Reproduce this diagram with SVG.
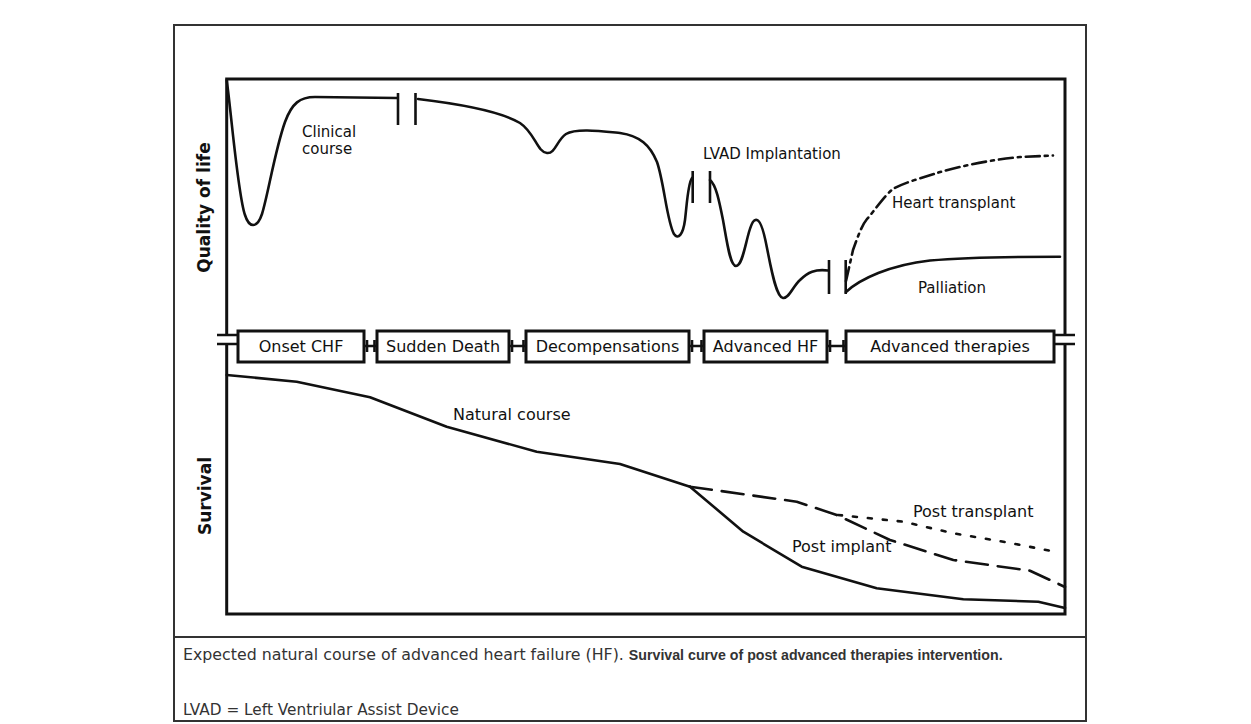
<svg xmlns="http://www.w3.org/2000/svg" width="1251" height="724" viewBox="0 0 1251 724">
  <style>
    .frame { fill: none; stroke: #333; stroke-width: 2; }
    .axis { fill: none; stroke: #111; stroke-width: 3; }
    .curve { fill: none; stroke: #111; stroke-width: 2.6; stroke-linejoin: round; stroke-linecap: round; }
    .brk { fill: none; stroke: #111; stroke-width: 2.6; }
    .box rect { fill: #fff; stroke: #111; stroke-width: 3; }
    .box text { font-family: "DejaVu Sans", Verdana, sans-serif; font-size: 16px; fill: #111; text-anchor: middle; }
    .lbl { font-family: "DejaVu Sans", Verdana, sans-serif; font-size: 15px; fill: #111; }
    .lbl16 { font-family: "DejaVu Sans", Verdana, sans-serif; font-size: 16px; fill: #111; }
    .ax { font-family: "DejaVu Sans", Verdana, sans-serif; font-size: 17px; font-weight: bold; fill: #111; text-anchor: middle; }
    .cap { font-family: "DejaVu Sans", Verdana, sans-serif; fill: #333; }
    .cap2 { font-family: "Liberation Sans", Arial, sans-serif; fill: #333; }
  </style>

  <rect width="1251" height="724" fill="#fff"/>

  <!-- outer figure frame and caption divider -->
  <rect class="frame" x="174" y="25" width="912" height="696"/>
  <line class="frame" x1="174" y1="637" x2="1086" y2="637"/>

  <!-- plot frame with axis breaks at the phase row -->
  <g id="plot-frame">
    <path class="axis" d="M226.7,335 V79 H1065 V335"/>
    <path class="axis" d="M226.7,344 V614 H1065 V344"/>
    <path class="brk" d="M217,335 H237 M217,344 H237"/>
    <path class="brk" d="M1055,335 H1075 M1055,344 H1075"/>
  </g>

  <!-- phase boxes -->
  <g id="phase-onset" class="box">
    <rect x="238" y="331" width="126" height="31"/>
    <text x="301" y="352">Onset CHF</text>
  </g>
  <g id="phase-sudden-death" class="box">
    <rect x="377" y="331" width="132" height="31"/>
    <text x="443" y="352">Sudden Death</text>
  </g>
  <g id="phase-decompensations" class="box">
    <rect x="526" y="331" width="163" height="31"/>
    <text x="607.5" y="352">Decompensations</text>
  </g>
  <g id="phase-advanced-hf" class="box">
    <rect x="704" y="331" width="123" height="31"/>
    <text x="765.5" y="352">Advanced HF</text>
  </g>
  <g id="phase-advanced-therapies" class="box">
    <rect x="846" y="331" width="208" height="31"/>
    <text x="950" y="352">Advanced therapies</text>
  </g>

  <!-- links between phase boxes -->
  <g id="connectors" class="brk">
    <path d="M364,346 H377 M367,340 V352 M374.5,340 V352"/>
    <path d="M509,346 H526 M512,340 V352 M523.5,340 V352"/>
    <path d="M689,346 H704 M692,340 V352 M701.5,340 V352"/>
    <path d="M827,346 H846 M830,340 V352 M843.5,340 V352"/>
  </g>

  <!-- quality of life: clinical course -->
  <g id="quality-curves">
    <path class="curve" d="M226.7,80 C232,120 238,195 245,215 C249,228 257,229 262,214 C268,195 275,150 285,122 C292,103 300,97 315,97 L397,98"/>
    <path class="brk" d="M398,93 V125 M415.5,93 V125"/>
    <path class="curve" d="M418,99 C460,104 500,111 520,123 C535,133 537,152 547,153 C555,154 557,140 566,134 C576,128 600,131 620,133 C640,136 650,145 657,162 C664,182 667,222 674,234 C678,240 683,235 685,220 C687,203 688,183 692,178"/>
    <path class="brk" d="M692.7,171 V203 M710,171 V203"/>
    <path class="curve" d="M710,180 C716,185 719,200 723,220 C727,242 730,266 736,266 C742,266 745,246 749,232 C752,222 754,219 757,220 C761,221 764,232 767,248 C771,268 776,297 783,298 C789,299 793,286 800,280 C808,272 815,269 828,270.5"/>
    <path class="brk" d="M829,260 V294 M845.7,260 V294"/>
    <path class="curve" d="M846,292 C860,279 890,265 930,260.5 C970,257 1020,256.7 1060,256.7"/>
    <path class="curve" stroke-dasharray="14 5 3 5" d="M846,281 L853,250 C858,236 862,225 867,219 C875,210 885,195 893,189 C905,182 925,177 937,173 C960,166 990,160 1020,157 L1053,155.5"/>
  </g>

  <!-- survival curves -->
  <g id="survival-curves">
    <path class="curve" d="M226.7,375 L296.7,381.7 L370,397.3 L446.7,426.7 L536.7,451.7 L620,464 L690,486.7"/>
    <path class="curve" d="M690,486.7 L743.3,531.7 L801.7,566.7 L876.7,588.3 L963.3,599.3 L1038.3,601.7 L1065,608"/>
    <path class="curve" stroke-linecap="butt" stroke-dasharray="22 10" d="M690,486.7 L796.7,501.7 L836.7,515 L890,540 L953.3,560 L1030,570.7 L1065,587"/>
    <path class="curve" stroke-linecap="butt" stroke-dasharray="4 11" d="M838,515 L903.3,521.7 L953.3,533.3 L1003.3,541.7 L1055,551.7"/>
  </g>

  <!-- curve labels -->
  <g id="labels">
    <text class="lbl" x="302" y="137">Clinical</text>
    <text class="lbl" x="302" y="154">course</text>
    <text class="lbl" x="703" y="159">LVAD Implantation</text>
    <text class="lbl" x="892" y="208">Heart transplant</text>
    <text class="lbl" x="918" y="293">Palliation</text>
    <text class="lbl16" x="453" y="420">Natural course</text>
    <text class="lbl16" x="913" y="517">Post transplant</text>
    <text class="lbl16" x="792" y="552">Post implant</text>
    <text class="ax" transform="translate(210,207.5) rotate(-90)">Quality of life</text>
    <text class="ax" transform="translate(211,496) rotate(-90)">Survival</text>
  </g>

  <!-- caption -->
  <g id="caption">
    <text x="183" y="660"><tspan class="cap" font-size="15.8">Expected natural course of advanced heart failure (HF). </tspan><tspan class="cap2" font-size="14.2" font-weight="bold">Survival curve of post advanced therapies intervention.</tspan></text>
    <text class="cap" x="183" y="715" font-size="15.3">LVAD = Left Ventriular Assist Device</text>
  </g>
</svg>
